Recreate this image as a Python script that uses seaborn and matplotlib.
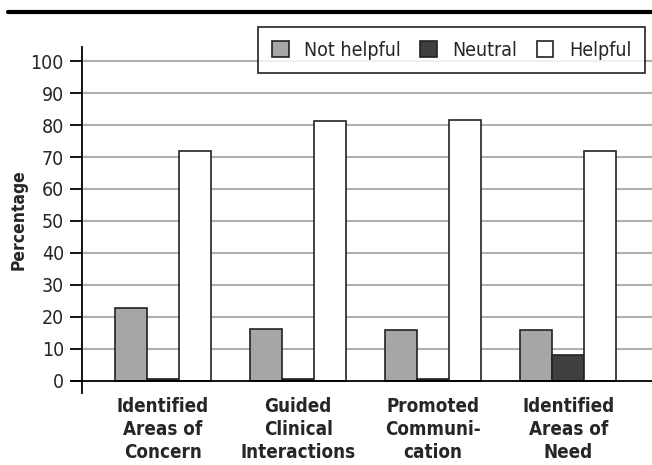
import pandas as pd
import matplotlib.pyplot as plt
import seaborn as sns
from matplotlib.lines import Line2D

categories = ["Identified\nAreas of\nConcern", "Guided\nClinical\nInteractions",
              "Promoted\nCommuni-\ncation", "Identified\nAreas of\nNeed"]
responses = ["Not helpful", "Neutral", "Helpful"]
not_helpful = [22.8, 16.3, 16.0, 16.0]
neutral = [0.5, 0.5, 0.5, 8.1]
helpful = [72.0, 81.2, 81.6, 72.0]
colors = ["#a6a6a6", "#404040", "#ffffff"]

rows = []
for i, cat in enumerate(categories):
    for resp, vals in zip(responses, [not_helpful, neutral, helpful]):
        rows.append({"category": cat, "response": resp, "value": vals[i]})
df = pd.DataFrame(rows)

sns.set_theme(style="white")
plt.rcParams['font.family'] = ['DejaVu Sans']
plt.rcParams['font.stretch'] = 'condensed'

fig = plt.figure(figsize=(6.52, 4.65), dpi=100)
ax = fig.add_axes([0.1258, 0.155, 0.8742, 0.744])

sns.barplot(data=df, x="category", y="value", hue="response", order=categories,
            hue_order=responses, palette=colors, width=0.71, gap=0,
            edgecolor="#222222", linewidth=1.2, saturation=1, ax=ax, zorder=3)

ax.set_xlim(-0.6, 3.62)
ax.set_ylim(-3.75, 104.4)
ax.set_yticks(range(0, 101, 10))
for y in range(10, 101, 10):
    ax.axhline(y, color="#b0b0b0", linewidth=1.5, zorder=1)
ax.axhline(0, color="black", linewidth=1.3, zorder=4, xmin=-0.02, clip_on=False)

for s in ["top", "right", "bottom"]:
    ax.spines[s].set_visible(False)
ax.spines["left"].set_color("black")
ax.spines["left"].set_linewidth(1.3)
ax.tick_params(axis="y", left=True, length=9, width=1.3, color="black",
               labelsize=14, pad=4)
ax.tick_params(axis="x", bottom=False, labelsize=13.5, pad=-3)
for lab in ax.get_xticklabels():
    lab.set_fontweight("bold")
    lab.set_linespacing(1.28)

ax.set_xlabel("")
ax.set_ylabel("Percentage", fontsize=12.5, fontweight="bold")
ax.yaxis.set_label_coords(-0.095, 0.5)

leg = ax.legend(loc="upper right", bbox_to_anchor=(0.989, 0.942),
                bbox_transform=fig.transFigure, ncol=3, fontsize=14,
                frameon=True, fancybox=False, edgecolor="black",
                handlelength=0.85, handleheight=0.85, columnspacing=1.0,
                handletextpad=0.8, borderpad=0.7, borderaxespad=0)
leg.get_frame().set_linewidth(1.3)
leg.set_zorder(10)

fig.add_artist(Line2D([0.012, 1.0], [0.974, 0.974], color="black", linewidth=3))

fig.savefig("out.png", dpi=100)
